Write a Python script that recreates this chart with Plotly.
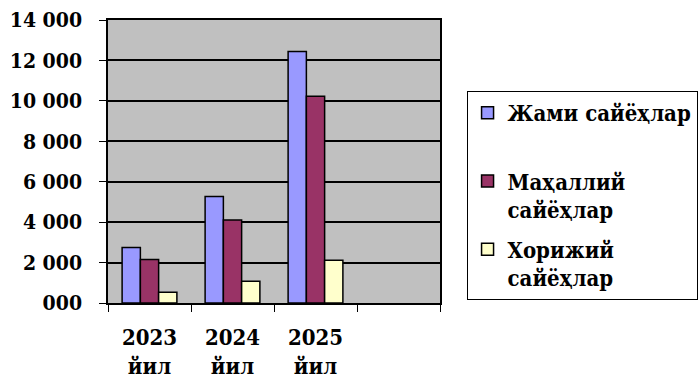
import plotly.graph_objects as go

# categories (4th slot is empty in the original chart)
years = ["2023<br>йил", "2024<br>йил", "2025<br>йил", " "]

total = [2740, 5270, 12440, None]
local = [2150, 4110, 10230, None]
foreign = [530, 1075, 2120, None]

series_names = ["Жами сайёҳлар<br> ", "Маҳаллий<br>сайёҳлар", "Хорижий<br>сайёҳлар"]
series_colors = ["#9999FF", "#993366", "#FFFFCC"]

y_ticks = [0, 2000, 4000, 6000, 8000, 10000, 12000, 14000]
y_tick_labels = ["000", "2 000", "4 000", "6 000", "8 000", "10 000", "12 000", "14 000"]

FONT = "DejaVu Serif Condensed, DejaVu Serif, serif"

fig = go.Figure()
for i, (name, vals, color) in enumerate(zip(series_names, [total, local, foreign], series_colors)):
    fig.add_trace(go.Bar(
        x=years,
        y=vals,
        name=name,
        legendgroup=f"g{i}",
        marker=dict(color=color, line=dict(color="black", width=1.5)),
    ))

fig.update_layout(
    template="none",
    width=699,
    height=376,
    margin=dict(l=108, r=259, t=20, b=73, autoexpand=False),
    paper_bgcolor="white",
    plot_bgcolor="#C0C0C0",
    barmode="group",
    bargap=0.34,
    bargroupgap=0,
    font=dict(family=FONT, size=22, color="black"),
    showlegend=True,
    legend=dict(
        x=1.08,
        y=0.749,
        xanchor="left",
        yanchor="top",
        bgcolor="white",
        bordercolor="black",
        borderwidth=1,
        valign="top",
        traceorder="grouped",
        tracegroupgap=8,
        font=dict(family=FONT, size=22, color="black", weight="bold"),
    ),
)

fig.update_xaxes(
    type="category",
    categoryorder="array",
    categoryarray=years,
    automargin=False,
    tickson="boundaries",
    ticks="outside",
    ticklen=7,
    tickcolor="black",
    tickwidth=1,
    ticklabelstandoff=14,
    showline=True,
    linecolor="black",
    linewidth=1.5,
    mirror=True,
    showgrid=False,
    tickfont=dict(family=FONT, size=22, color="black", weight="bold"),
)

fig.update_yaxes(
    range=[0, 14000],
    automargin=False,
    tickvals=y_ticks,
    ticktext=y_tick_labels,
    ticks="outside",
    ticklen=7,
    tickcolor="black",
    ticklabelstandoff=13,
    showline=True,
    linecolor="black",
    linewidth=1.5,
    mirror=True,
    showgrid=True,
    gridcolor="black",
    gridwidth=2,
    zeroline=False,
    tickfont=dict(family=FONT, size=21, color="black", weight="bold"),
)

# drop the default 8px body margin so the figure sits at the window corner
fig.write_html(
    "out.html",
    config={"displayModeBar": False},
    post_script="document.body.style.margin = '0';",
)
